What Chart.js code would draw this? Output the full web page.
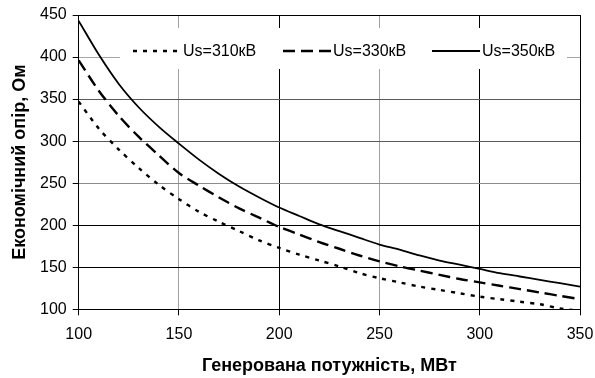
<!DOCTYPE html>
<html>
<head>
<meta charset="utf-8">
<script src="https://cdn.jsdelivr.net/npm/chart.js@4.4.1/dist/chart.umd.min.js"></script>
<style>body{margin:0;background:#fff}</style>
</head>
<body>
<canvas id="myChart" width="595" height="378"></canvas>
<script>
// Генерована потужність, МВт
const power = [100, 110, 120, 130, 140, 150, 160, 170, 180, 190, 200, 210, 220, 230, 240, 250, 260, 270, 280, 290, 300, 310, 320, 330, 340, 350];
// Економічний опір, Ом
const r310 = [347, 315, 290, 268, 248, 231, 216, 204, 193, 182, 173, 165, 158, 151, 143, 137, 132, 127, 123, 119, 115, 112, 109, 106, 101, 98];
const r330 = [396, 360, 330, 305, 283, 262, 247, 233, 220, 209, 198, 189, 180, 172, 164, 157, 151, 146, 141, 136, 132, 128, 124, 120, 116, 112];
const r350 = [443, 403, 368, 340, 317, 297, 278, 261, 246, 233, 221, 211, 201, 193, 185, 177, 171, 164, 158, 153, 148, 143, 139, 135, 131, 127];
const seriesLabels = ['Us=310кВ', 'Us=330кВ', 'Us=350кВ'];
const xTicks = [100, 150, 200, 250, 300, 350];
const yTicks = [100, 150, 200, 250, 300, 350, 400, 450];

function pts(vals) {
    return power.map((p, i) => ({ x: p, y: vals[i] }));
}

// кольори ліній сітки (як на скані)
const hGrid = { 100: '#000', 150: '#000', 200: '#000', 250: '#8c8c8c', 300: '#5a5a5a', 350: '#5a5a5a', 400: '#a6a6a6', 450: '#000' };
const vGrid = { 100: '#000', 150: '#a0a0a0', 200: '#000', 250: '#a0a0a0', 300: '#000', 350: '#000' };

// легенда всередині області графіка
const legendBox = {
    id: 'legendBox',
    afterDraw(chart) {
        const ctx = chart.ctx;
        ctx.save();
        ctx.fillStyle = '#fff';
        ctx.fillRect(120, 28, 447, 41);
        const starts = [133, 283, 432];
        chart.data.datasets.forEach((ds, i) => {
            const x = starts[i], y = 51;
            ctx.beginPath();
            ctx.setLineDash(ds.borderDash || []);
            ctx.lineWidth = ds.borderWidth;
            ctx.strokeStyle = ds.borderColor;
            ctx.moveTo(x, y);
            ctx.lineTo(x + 48, y);
            ctx.stroke();
            ctx.setLineDash([]);
            ctx.fillStyle = '#000';
            ctx.font = '16px "Liberation Sans", Arial, sans-serif';
            ctx.textBaseline = 'middle';
            ctx.fillText(ds.label, x + 50, y + 1);
        });
        ctx.restore();
    }
};

const ctx = document.getElementById('myChart').getContext('2d');
const tickFont = { family: '"Liberation Sans", Arial, sans-serif', size: 16 };
const titleFont = { family: '"Liberation Sans", Arial, sans-serif', size: 18, weight: 'bold' };

const myChart = new Chart(ctx, {
    type: 'line',
    data: {
        datasets: [
            { label: seriesLabels[0], data: pts(r310), borderColor: '#000', borderWidth: 2.4, borderDash: [4, 6], pointRadius: 0, tension: 0.3, fill: false },
            { label: seriesLabels[1], data: pts(r330), borderColor: '#000', borderWidth: 2.4, borderDash: [12, 6], pointRadius: 0, tension: 0.3, fill: false },
            { label: seriesLabels[2], data: pts(r350), borderColor: '#000', borderWidth: 1.8, pointRadius: 0, tension: 0.3, fill: false }
        ]
    },
    options: {
        responsive: false,
        animation: false,
        layout: { padding: { left: 0, right: 15, top: 15, bottom: 0 } },
        plugins: { legend: { display: false }, tooltip: { enabled: false } },
        scales: {
            x: {
                type: 'linear',
                min: xTicks[0],
                max: xTicks[xTicks.length - 1],
                afterBuildTicks: s => { s.ticks = xTicks.map(v => ({ value: v })); },
                afterFit: s => { s.height = 68.7; s.paddingLeft = 0; s.paddingRight = 0; },
                ticks: { font: tickFont, color: '#000', padding: 10, maxRotation: 0 },
                grid: { color: c => vGrid[c.tick.value] || '#000', lineWidth: 1, tickLength: 6, tickColor: '#000' },
                border: { color: '#000', width: 1 },
                title: { display: true, text: 'Генерована потужність, МВт', font: titleFont, color: '#000', padding: { top: 0, bottom: 1 } }
            },
            y: {
                min: yTicks[0],
                max: yTicks[yTicks.length - 1],
                afterBuildTicks: s => { s.ticks = yTicks.map(v => ({ value: v })); },
                afterFit: s => { s.width = 78.7; s.paddingTop = 0; s.paddingBottom = 0; },
                ticks: { font: tickFont, color: '#000', padding: 6 },
                grid: { color: c => hGrid[c.tick.value] || '#000', lineWidth: 1, tickLength: 6, tickColor: '#000' },
                border: { color: '#000', width: 1 },
                title: { display: true, text: 'Економічний опір, Ом', font: titleFont, color: '#000', padding: { top: 9, bottom: 0 } }
            }
        }
    },
    plugins: [legendBox]
});
</script>
</body>
</html>
